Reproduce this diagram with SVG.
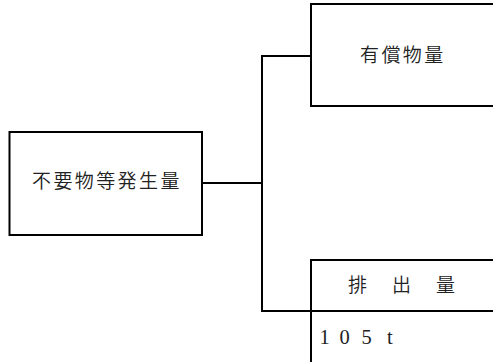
<svg xmlns="http://www.w3.org/2000/svg" width="493" height="362" viewBox="0 0 493 362">
<style>
.ln{fill:none;stroke:#000;stroke-width:2;stroke-linecap:square}
.jp{font-family:"Noto Sans CJK JP","Noto Sans CJK SC",sans-serif;font-size:19px;font-weight:350;fill:#222;letter-spacing:2.4px}
.num{font-family:"Liberation Serif",serif;font-size:20.5px;fill:#222}
</style>
<rect width="493" height="362" fill="#fff"/>
<g id="connectors">
<path class="ln" d="M202 183 H262 M262 56 V311 M262 56 H311"/>
</g>
<g id="node-generation">
<rect class="ln" x="9.5" y="132" width="192.5" height="103"/>
<text class="jp" x="32" y="187.5">不要物等発生量</text>
</g>
<g id="node-valuables">
<path class="ln" d="M493 4 H311 V106 H493"/>
<text class="jp" x="360" y="61.5">有償物量</text>
</g>
<g id="node-emission">
<path class="ln" d="M493 260 H311 V362 M262 311 H493"/>
<text class="jp" x="348" y="291.5" style="letter-spacing:3px">排　出　量</text>
<text class="num" x="319.5 339.5 361.5 387" y="344">105t</text>
</g>
</svg>
